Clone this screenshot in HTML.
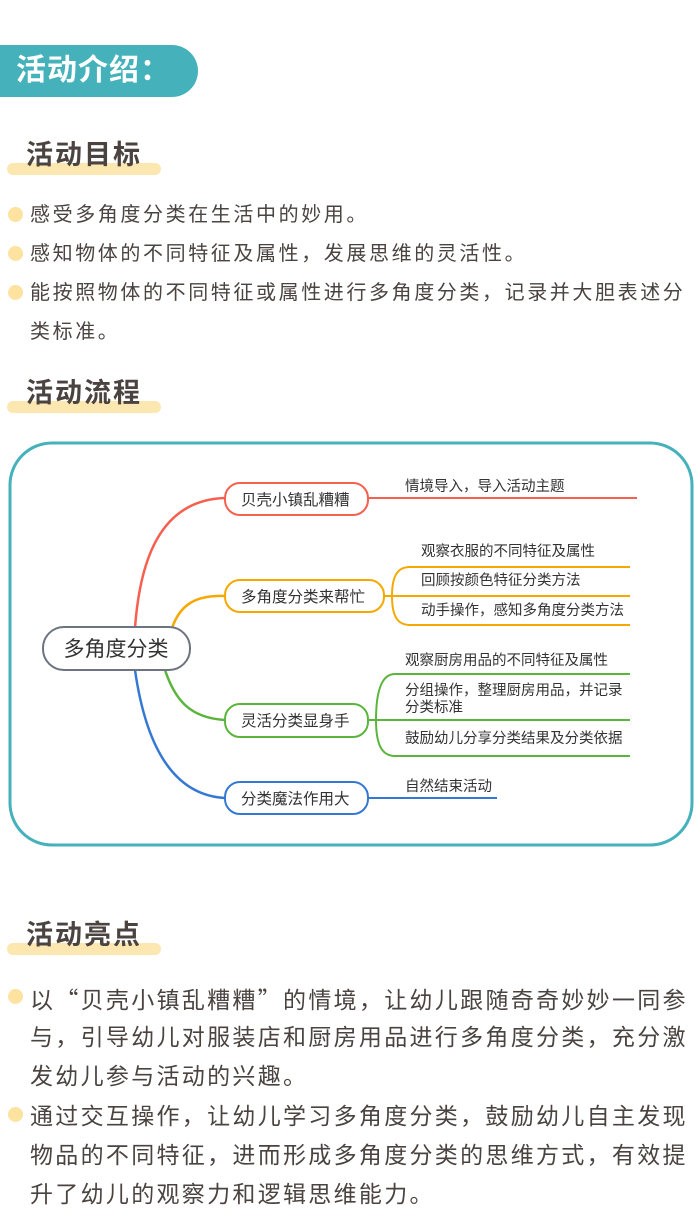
<!DOCTYPE html>
<html><head><meta charset="utf-8"><style>
body{margin:0;width:700px;height:1225px;background:#fff;position:relative;overflow:hidden;font-family:"Liberation Sans","Noto Sans CJK SC",sans-serif;color:#4a4340}
.abs{position:absolute;white-space:nowrap}
.pill{left:0;top:45px;width:198px;height:52px;background:#45b2bb;border-radius:0 26px 26px 0;color:#fff;font-size:30px;font-weight:bold;line-height:52px;padding-left:16px;box-sizing:border-box;letter-spacing:1px}
.h{font-size:27px;font-weight:bold;color:#4a4340;letter-spacing:2px;line-height:34px}
.bar{height:12px;background:#fde7b0;border-radius:6px}
.t{font-size:20px;letter-spacing:2.6px;line-height:24px}
.t3{font-size:23px;letter-spacing:2.3px;line-height:28px}
.q{font-family:"Noto Sans CJK SC",sans-serif}
.dot{width:15px;height:15px;border-radius:50%;background:#fde2a0}
</style></head><body>
<div class="abs pill">活动介绍：</div>

<div class="abs bar" style="left:7px;top:163px;width:154px"></div>
<div class="abs h" style="left:26px;top:138px">活动目标</div>
<div class="abs dot" style="left:8px;top:207px"></div>
<div class="abs t" style="left:30px;top:203px">感受多角度分类在生活中的妙用。</div>
<div class="abs dot" style="left:8px;top:246px"></div>
<div class="abs t" style="left:30px;top:242px">感知物体的不同特征及属性，发展思维的灵活性。</div>
<div class="abs dot" style="left:8px;top:285px"></div>
<div class="abs t" style="left:30px;top:281px">能按照物体的不同特征或属性进行多角度分类，记录并大胆表述分</div>
<div class="abs t" style="left:30px;top:320px">类标准。</div>

<div class="abs bar" style="left:7px;top:401px;width:154px"></div>
<div class="abs h" style="left:26px;top:376px">活动流程</div>

<svg class="abs" style="left:0;top:0" width="700" height="1225" font-family="Liberation Sans, Noto Sans CJK SC, sans-serif">
<rect x="10" y="443" width="682" height="402" rx="42" fill="#fff" stroke="#45b2bb" stroke-width="3"/>
<g fill="none" stroke-width="2.5">
<path d="M135 628 C140 560,160 500,225 498" stroke="#f5604f"/>
<path d="M172 628 C180 605,195 595,225 596" stroke="#f5a800"/>
<path d="M165 670 C175 700,190 718,225 720" stroke="#5ab53c"/>
<path d="M135 670 C145 740,170 795,225 798" stroke="#3578d4"/>
</g>
<g fill="none" stroke-width="2">
<path d="M368 498 H637" stroke="#f5604f"/>
<path d="M384 596 H630 M392 596 C392 575,398 567,410 567 H630 M392 596 C392 617,398 625,410 625 H630" stroke="#f5a800"/>
<path d="M368 720 H630 M376 720 C376 690,382 674,395 674 H630 M376 720 C376 745,382 756,395 756 H630" stroke="#5ab53c"/>
<path d="M368 798 H497" stroke="#3578d4"/>
</g>
<rect x="43" y="627" width="147" height="43" rx="21" fill="#fff" stroke="#6d7380" stroke-width="2"/>
<text x="116" y="656" font-size="21" text-anchor="middle" fill="#333">多角度分类</text>
<g font-size="15.5" fill="#333">
<g fill="#fff" stroke-width="2">
<rect x="225" y="483" width="143" height="32" rx="15" stroke="#f5604f"/>
<rect x="225" y="580" width="159" height="32" rx="15" stroke="#f5a800"/>
<rect x="225" y="704" width="143" height="33" rx="15" stroke="#5ab53c"/>
<rect x="225" y="782" width="143" height="32" rx="15" stroke="#3578d4"/>
</g>
<text x="241" y="505">贝壳小镇乱糟糟</text>
<text x="241" y="602">多角度分类来帮忙</text>
<text x="241" y="726">灵活分类显身手</text>
<text x="241" y="804">分类魔法作用大</text>
</g>
<g font-size="14.5" fill="#333">
<text x="405" y="491">情境导入，导入活动主题</text>
<text x="421" y="556">观察衣服的不同特征及属性</text>
<text x="421" y="585">回顾按颜色特征分类方法</text>
<text x="421" y="615">动手操作，感知多角度分类方法</text>
<text x="405" y="665">观察厨房用品的不同特征及属性</text>
<text x="405" y="695">分组操作，整理厨房用品，并记录</text>
<text x="405" y="712">分类标准</text>
<text x="405" y="743">鼓励幼儿分享分类结果及分类依据</text>
<text x="405" y="791">自然结束活动</text>
</g>
</svg>

<div class="abs bar" style="left:7px;top:943px;width:154px"></div>
<div class="abs h" style="left:26px;top:918px">活动亮点</div>
<div class="abs dot" style="left:8px;top:989px"></div>
<div class="abs t3" style="left:30px;top:984px">以<span class="q">“</span>贝壳小镇乱糟糟<span class="q">”</span>的情境，让幼儿跟随奇奇妙妙一同参</div>
<div class="abs t3" style="left:30px;top:1023px">与，引导幼儿对服装店和厨房用品进行多角度分类，充分激</div>
<div class="abs t3" style="left:30px;top:1062px">发幼儿参与活动的兴趣。</div>
<div class="abs dot" style="left:8px;top:1107px"></div>
<div class="abs t3" style="left:30px;top:1102px">通过交互操作，让幼儿学习多角度分类，鼓励幼儿自主发现</div>
<div class="abs t3" style="left:30px;top:1141px">物品的不同特征，进而形成多角度分类的思维方式，有效提</div>
<div class="abs t3" style="left:30px;top:1180px">升了幼儿的观察力和逻辑思维能力。</div>
</body></html>
